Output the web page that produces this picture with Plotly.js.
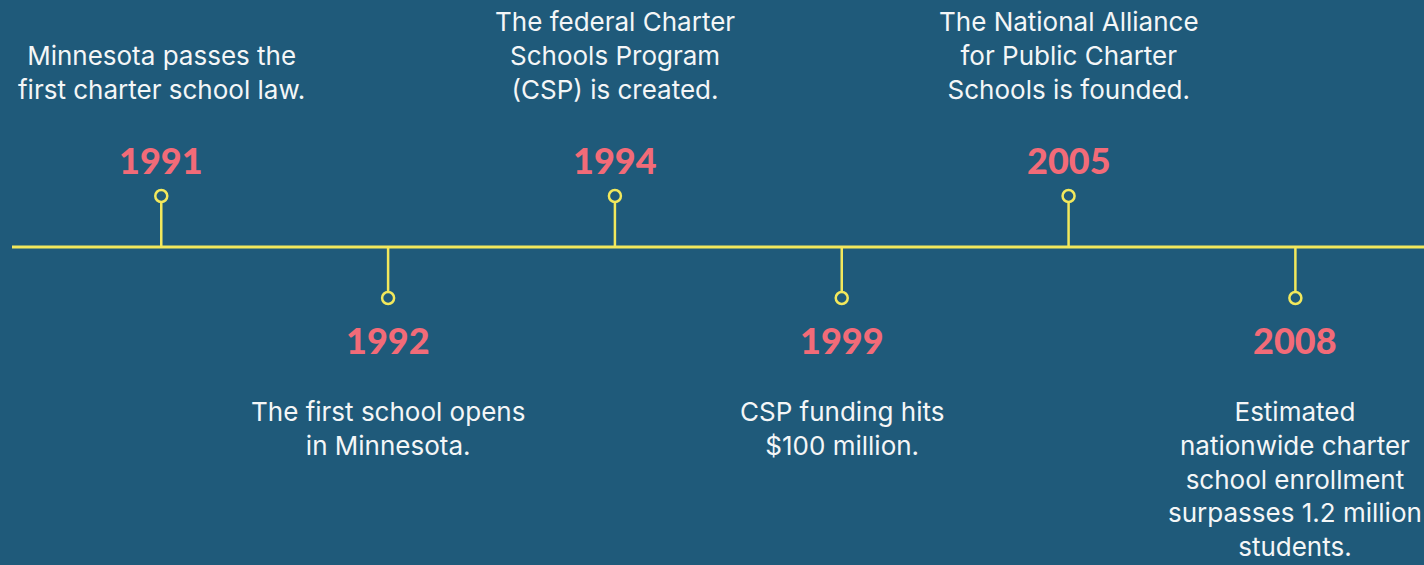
<!DOCTYPE html>
<html>
<head>
<meta charset="utf-8">
<script src="https://cdn.plot.ly/plotly-3.0.1.min.js"></script>
<style>
  html, body { margin: 0; padding: 0; background: #1f5a7a; }
  #chart { width: 1424px; height: 565px; }
</style>
</head>
<body>
<div id="chart"></div>
<script>
// ---- data ----
const years = ["1991", "1992", "1994", "1999", "2005", "2008"];
const descriptions = [
  "Minnesota passes the<br>first charter school law.",
  "The first school opens<br>in Minnesota.",
  "The federal Charter<br>Schools Program<br>(CSP) is created.",
  "CSP funding hits<br>$100 million.",
  "The National Alliance<br>for Public Charter<br>Schools is founded.",
  "Estimated<br>nationwide charter<br>school enrollment<br>surpasses 1.2 million<br>students."
];
const sides = ["up", "down", "up", "down", "up", "down"];

// ---- style ----
const BG = "#1f5a7a";
const YELLOW = "#f2e85c";
const SALMON = "#f26b78";
const WHITE = "#f4f6f7";
const STEM = 51, YEAR_UP = 87, YEAR_DOWN = -93, DESC_UP = 140, DESC_DOWN = -147;

const idx = years.map((_, i) => i);
const dir = sides.map(s => s === "up" ? 1 : -1);

const traces = [];
idx.forEach(i => {
  traces.push({
    type: "scatter", mode: "lines",
    x: [i, i], y: [0, dir[i] * STEM],
    line: { color: YELLOW, width: 2.5 },
    hoverinfo: "skip", showlegend: false
  });
});
traces.push({
  type: "scatter", mode: "markers",
  x: idx, y: dir.map(d => d * STEM),
  marker: { symbol: "circle", size: 12, color: BG, line: { color: YELLOW, width: 2.5 } },
  hoverinfo: "skip", showlegend: false, cliponaxis: false
});

const annotations = [];
idx.forEach(i => {
  annotations.push({
    x: i, y: dir[i] > 0 ? YEAR_UP : YEAR_DOWN, xref: "x", yref: "y",
    text: years[i], showarrow: false,
    xanchor: "center", yanchor: "middle",
    font: { family: "Lato, 'Open Sans', sans-serif", size: 36, color: SALMON, weight: 900 }
  });
  annotations.push({
    x: i, y: dir[i] > 0 ? DESC_UP : DESC_DOWN, xref: "x", yref: "y",
    text: descriptions[i], showarrow: false,
    xanchor: "center", yanchor: dir[i] > 0 ? "bottom" : "top", align: "center",
    font: { family: "Inter, 'Open Sans', sans-serif", size: 26, color: WHITE }
  });
});

const layout = {
  width: 1424, height: 565,
  margin: { l: 0, r: 0, t: 0, b: 0, pad: 0 },
  paper_bgcolor: BG, plot_bgcolor: BG,
  xaxis: { range: [-0.711, 5.567], visible: false, fixedrange: true },
  yaxis: { range: [-318, 247], visible: false, fixedrange: true },
  shapes: [{
    type: "line", xref: "paper", yref: "y",
    x0: 12 / 1424, x1: 1, y0: 0, y1: 0,
    line: { color: YELLOW, width: 3 }, layer: "below"
  }],
  annotations: annotations,
  showlegend: false
};

Plotly.newPlot("chart", traces, layout, { displayModeBar: false, staticPlot: true });
</script>
</body>
</html>
